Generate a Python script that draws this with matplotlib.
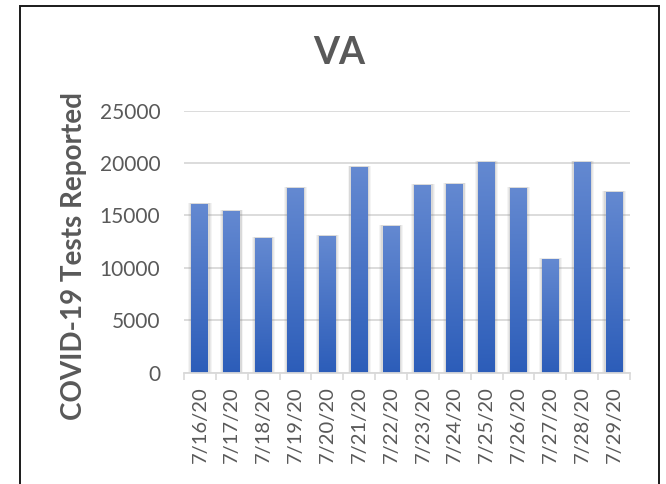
"""VA daily COVID-19 tests reported, Excel-style column chart."""

import matplotlib
matplotlib.use("Agg")
import matplotlib.pyplot as plt
import numpy as np
from matplotlib.colors import LinearSegmentedColormap
from matplotlib.patches import Rectangle

DATES = ["7/16/20", "7/17/20", "7/18/20", "7/19/20", "7/20/20", "7/21/20", "7/22/20",
         "7/23/20", "7/24/20", "7/25/20", "7/26/20", "7/27/20", "7/28/20", "7/29/20"]
TESTS = [16115, 15446, 12866, 17643, 13057, 19650, 14013,
         17930, 18025, 20127, 17643, 10860, 20127, 17261]
YTICKS = [0, 5000, 10000, 15000, 20000, 25000]

INK = "#595959"
GRID = "#d9d9d9"
TOP = "#6489d1"
BOTTOM = "#2c5db9"

plt.rcParams["font.family"] = ["Lato", "DejaVu Sans"]

fig = plt.figure(figsize=(6.66, 4.84), dpi=100)
ax = fig.add_axes([184 / 666, 1 - 372.7 / 484, 446 / 666, 262 / 484])

x = np.arange(len(DATES))
bars = ax.bar(x, TESTS, width=0.53, color="none", zorder=3)

# soft shadow + vertical gradient, clipped to each bar
cmap = LinearSegmentedColormap.from_list("bar", [BOTTOM, TOP])
grad = np.linspace(0, 1, 256).reshape(-1, 1)
for b in bars:
    x0, w, h = b.get_x(), b.get_width(), b.get_height()
    for k, a in [(0.10, 0.08), (0.07, 0.10), (0.04, 0.14)]:
        ax.add_patch(Rectangle((x0 - k, 0), w + 2 * k, h + k * 900,
                               color="#7f7f7f", alpha=a, lw=0, zorder=2))
    im = ax.imshow(grad, cmap=cmap, origin="lower", aspect="auto",
                   extent=(x0, x0 + w, 0, h), zorder=3)
    im.set_clip_path(b)

ax.set_xlim(-0.5, len(DATES) - 0.5)
ax.set_ylim(0, 25000)
ax.set_yticks(YTICKS)
ax.set_yticklabels([str(v) for v in YTICKS])
ax.set_xticks(x)
ax.set_xticklabels(DATES, rotation=90)
ax.set_xticks(np.arange(-0.5, len(DATES)), minor=True)
ax.tick_params(axis="x", which="major", length=0, pad=10, labelsize=14.5, labelcolor=INK)
ax.tick_params(axis="x", which="minor", length=5, width=1.2, color=GRID)
ax.tick_params(axis="y", length=0, pad=17, labelsize=15, labelcolor=INK)

ax.grid(axis="y", color=GRID, linewidth=1.3, zorder=0)
ax.set_axisbelow(True)
for s in ["top", "right", "left"]:
    ax.spines[s].set_visible(False)
ax.spines["bottom"].set_color(GRID)
ax.spines["bottom"].set_linewidth(1.3)
ax.spines["bottom"].set_zorder(4)

ax.set_ylabel("COVID-19 Tests Reported", fontsize=20, fontweight="bold",
              color=INK, va="center")
ax.yaxis.set_label_coords(-0.247, 0.447)
fig.text(339 / 666, 1 - 52.5 / 484, "VA", fontsize=27, fontweight="bold",
         color=INK, ha="center", va="center")

fig.patches.append(Rectangle((20 / 666, -0.1), 639 / 666, 1.1 - 6 / 484,
                             transform=fig.transFigure, fill=False,
                             edgecolor="#1a1a1a", linewidth=1.4))

fig.savefig("out.png", dpi=100)
